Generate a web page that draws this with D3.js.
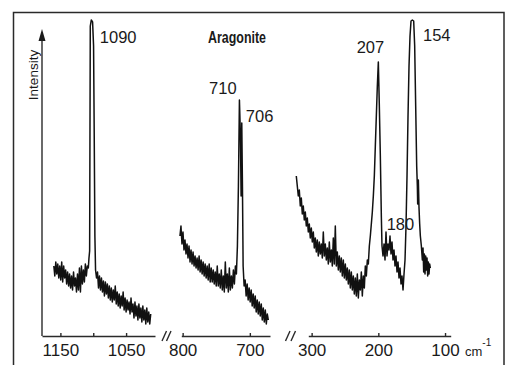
<!DOCTYPE html>
<html>
<head>
<meta charset="utf-8">
<script src="https://cdn.jsdelivr.net/npm/d3@7"></script>
<style>
  body { margin: 0; background: #fff; }
  svg text { font-family: "Liberation Sans", Arial, sans-serif; fill: #1a1a1a; }
  .axis path, .axis line { stroke: #2a2a2a; stroke-width: 1.4; }
  .axis text { font-size: 17px; }
</style>
</head>
<body>
<div id="chart"></div>
<script>
// Raman spectrum of aragonite, three wavenumber windows (cm-1), intensity in arbitrary units

// 1177 - 1006 cm-1 window
const wn1 = [1160,1158.5,1157,1155.5,1154,1152.5,1151,1149.5,1148,1146.5,1145,1143.5,1142,1140.5,1139,1137.5,1136,1134.5,1133,1131.5,1130,1128.5,1127,1125.5,1124,1122.5,1121,1119.5,1118,1116.5,1115,1113.5,1112,1110.5,1109,1107.5,1106.5,1105.5,1105,1104.5,1103,1101,1099.5,1098.5,1097.5,1096.5,
  1095,1093.5,1092,1090.5,1089,1087.5,1086,1084.5,1083,1081.5,1080,1078.5,1077,1075.5,1074,1072.5,1071,1069.5,1068,1066.5,1065,1063.5,1062,1060.5,1059,1057.5,1056,1054.5,1053,1051.5,1050,1048.5,1047,1045.5,1044,1042.5,1041,1039.5,1038,1036.5,1035,1033.5,1032,1030.5,1029,1027.5,1026,1024.5,1023,1021.5,1020,1018.5,1017,1015.5,1014,1012.5];
const int1 = [70,60,74,62,72,58,70,56,74,54,70,58,66,52,64,50,62,48,60,46,64,50,58,44,62,46,68,44,70,52,66,54,72,60,70,68,78,85,200,310,316,314,290,200,100,66,
  58,64,48,60,46,58,44,55,40,54,42,52,38,50,36,48,34,46,36,50,32,44,30,42,28,40,30,44,26,38,24,36,26,34,22,38,24,32,18,34,20,30,16,32,18,28,14,30,16,26,12,28,14,24,12,22];

// 802 - 670 cm-1 window
const wn2 = [804,802.5,801,799.5,798,796.5,795,793.5,792,790.5,789,787.5,786,784.5,783,781.5,780,778.5,777,775.5,774,772.5,771,769.5,768,766.5,765,763.5,762,760.5,759,757.5,756,754.5,753,751.5,750,748.5,747,745.5,744,742.5,741,739.5,738,736.5,735,733.5,732,730.5,729,727.5,726,724.5,723,721.5,720,718.5,717,715.5,714,713,712,711,710,
  708.5,707,705.5,704,702.5,701,699.5,698,696.5,695,693.5,692,690.5,689,687.5,686,684.5,683,681.5,680,678.5,677,675.5,674,672.5];
const int2 = [100,110,92,104,86,96,82,92,78,90,74,86,72,84,70,80,68,78,66,80,64,76,62,74,60,72,58,70,56,72,54,68,54,66,52,64,50,70,50,62,48,66,46,60,44,74,48,62,44,68,46,60,48,66,52,70,62,90,150,236,200,140,213,150,70,
  50,56,40,52,36,48,34,46,30,42,28,40,24,36,22,34,20,32,16,28,14,26,12,22,16];

// 305 - 91 cm-1 window
const wn3 = [323,321.5,320,318.5,317,315.5,314,312.5,311,309.5,308,306.5,305,303.5,302,300.5,299,297.5,296,294.5,293,291.5,290,288.5,287,285.5,284,282.5,281,279.5,278,276.5,275,273.5,272,270.5,269,267.5,266,264.5,263,261.5,260,258.5,257,255.5,254,252.5,251,249.5,248,246.5,245,243.5,242,240.5,239,237.5,236,234.5,233,231.5,230,228.5,227,225.5,224,222.5,221,219.5,218,216.5,215,213.5,212,210.5,209,207.5,206,204.5,203,201.5,200,198.5,197,195.5,194.5,
  193,191.5,190,188.5,187,185.5,184,182.5,181,179.5,178,176.5,175,173.5,172,170.5,169,167.5,166,164.5,163,161.5,160,158.5,157,155.5,154,152.5,151,149,147,145.5,144,142.5,141.5,141,140,139,138,137,135.5,134,133,132,131,130,129,128,127,126,125,124,123,122];
const int3 = [160,150,140,146,130,138,122,130,116,124,110,118,104,112,98,108,94,104,88,98,84,96,80,94,82,92,78,104,80,92,76,88,72,94,74,86,70,98,72,110,70,84,66,80,64,78,60,76,58,72,56,68,52,66,48,64,46,60,42,58,40,62,38,56,46,64,40,60,48,70,60,76,72,90,100,112,124,140,160,190,220,250,274,230,180,120,90,
  80,92,76,104,80,92,86,100,82,94,76,86,70,80,64,74,58,68,52,60,46,62,76,110,160,220,270,300,315,316,315,290,230,170,150,132,156,128,112,100,90,76,88,64,82,62,80,66,78,60,74,62,72,68];

// axis windows and ticks
const windows = [
  { domain: [1178, 1006], ticks: [1150, 1100, 1050], labels: ['1150', '', '1050'] },
  { domain: [802, 670],   ticks: [800, 700],         labels: ['800', '700'] },
  { domain: [305, 91.5],  ticks: [300, 200, 100],    labels: ['300', '200', '100'] }
];
const series = [[wn1, int1], [wn2, int2], [wn3, int3]];

// peak annotations: window index, wavenumber anchor, text
const peakLabels = [
  { w: 0, at: 1090, text: '1090', dx: 0,   y: 43 },
  { w: 1, at: 710,  text: '710',  dx: -34, y: 94 },
  { w: 1, at: 706,  text: '706',  dx: 0,   y: 122 },
  { w: 2, at: 207,  text: '207',  dx: -17, y: 53 },
  { w: 2, at: 154,  text: '154',  dx: 14,  y: 41 },
  { w: 2, at: 180,  text: '180',  dx: -5,  y: 230 }
];

const width = 509, height = 365;
const ranges = [[42, 155], [181.3, 270], [308.3, 450.7]];
const axisY = 336;

const svg = d3.select('#chart').append('svg')
  .attr('width', width).attr('height', height);

// frame
svg.append('rect')
  .attr('x', 13.5).attr('y', 12.5).attr('width', 490.5).attr('height', 370)
  .attr('fill', 'none').attr('stroke', '#2a2a2a').attr('stroke-width', 1.5);

const yScale = d3.scaleLinear().domain([0, 320]).range([axisY, 16]);
const xScales = windows.map((w, i) => d3.scaleLinear().domain(w.domain).range(ranges[i]));

// x axes
windows.forEach((w, i) => {
  const ax = d3.axisBottom(xScales[i])
    .tickValues(w.ticks)
    .tickFormat((d, k) => w.labels[k])
    .tickSizeInner(-3).tickSizeOuter(0).tickPadding(8);
  svg.append('g').attr('class', 'axis')
    .attr('transform', `translate(0, ${axisY})`)
    .call(ax)
    .call(g => g.selectAll('text').attr('fill', '#1a1a1a'));
});

// axis breaks
[[162, 166.5], [285.5, 291]].forEach(b => {
  b.forEach(x0 => {
    svg.append('line')
      .attr('x1', x0).attr('y1', 341).attr('x2', x0 + 4.5).attr('y2', 331)
      .attr('stroke', '#2a2a2a').attr('stroke-width', 1.4);
  });
});

// intensity arrow
svg.append('line')
  .attr('x1', 42).attr('x2', 42).attr('y1', axisY).attr('y2', 38)
  .attr('stroke', '#2a2a2a').attr('stroke-width', 1.4);
svg.append('path')
  .attr('d', 'M42,29 L38.5,41 L45.5,41 Z')
  .attr('fill', '#1a1a1a');
svg.append('text')
  .attr('transform', 'translate(37.5, 75) rotate(-90)')
  .attr('text-anchor', 'middle')
  .style('font-size', '13.5px')
  .text('Intensity');

// spectra
const line = d3.line().curve(d3.curveLinear);
series.forEach((s, i) => {
  const pts = s[0].map((x, k) => [xScales[i](x), yScale(s[1][k])]);
  svg.append('path')
    .attr('d', line(pts))
    .attr('fill', 'none')
    .attr('stroke', '#111')
    .attr('stroke-width', 1.5)
    .attr('stroke-linejoin', 'round');
});

// peak labels
peakLabels.forEach(p => {
  svg.append('text')
    .attr('x', xScales[p.w](p.at) + p.dx)
    .attr('y', p.y)
    .style('font-size', '16.5px')
    .text(p.text);
});

// title
svg.append('text')
  .attr('x', 208).attr('y', 43)
  .attr('textLength', 58).attr('lengthAdjust', 'spacingAndGlyphs')
  .style('font-size', '16px').style('font-weight', 'bold')
  .text('Aragonite');

// unit
const unit = svg.append('text').attr('x', 465).attr('y', 356).style('font-size', '13px');
unit.append('tspan').text('cm');
unit.append('tspan').attr('dy', -10).style('font-size', '10px').text('-1');
</script>
</body>
</html>
